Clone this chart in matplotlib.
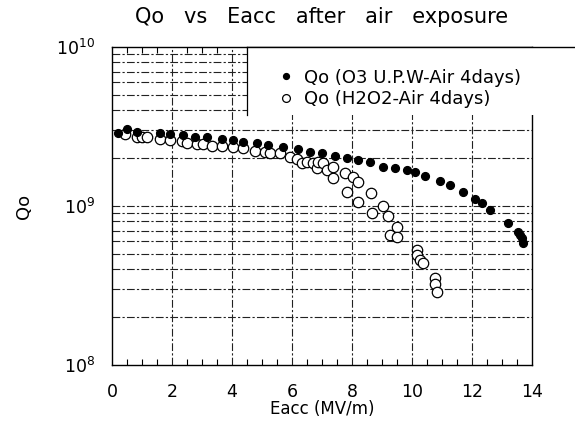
import numpy as np
import matplotlib.pyplot as plt
from matplotlib.patches import Rectangle
from matplotlib.ticker import FixedLocator, NullFormatter

plt.rcParams['font.family'] = ['DejaVu Sans']

# Qo (O3 U.P.W-Air 4days), filled dots
e_o3 = [0.21, 0.49, 0.82, 1.6, 1.93, 2.38, 2.77, 3.16, 3.66, 4.04, 4.38, 4.82,
        5.21, 5.71, 6.21, 6.6, 6.99, 7.43, 7.82, 8.21, 8.6, 9.04, 9.43, 9.82,
        10.1, 10.43, 10.93, 11.27, 11.71, 12.1, 12.32, 12.6, 13.21, 13.54,
        13.6, 13.66, 13.71]
logq_o3 = [9.461, 9.482, 9.467, 9.457, 9.453, 9.447, 9.436, 9.432, 9.419, 9.415,
           9.404, 9.394, 9.384, 9.373, 9.357, 9.341, 9.331, 9.314, 9.300, 9.289,
           9.279, 9.245, 9.241, 9.226, 9.212, 9.191, 9.159, 9.132, 9.090, 9.042,
           9.017, 8.975, 8.895, 8.838, 8.818, 8.797, 8.765]

# Qo (H2O2-Air 4days), open circles
e_h2o2 = [0.43, 0.82, 0.99, 1.16, 1.6, 1.93, 2.32, 2.49, 2.82, 3.04, 3.32, 3.66,
          4.04, 4.38, 4.77, 5.1, 5.27, 5.6, 5.93, 6.16, 6.32, 6.49, 6.71, 6.82,
          6.88, 7.04, 7.16, 7.38, 7.38, 7.77, 8.02, 8.21, 7.82, 8.21, 8.62, 8.66,
          9.04, 9.21, 9.51, 9.27, 9.49, 10.16, 10.16, 10.27, 10.38, 10.77, 10.77,
          10.82]
logq_h2o2 = [9.453, 9.432, 9.432, 9.432, 9.419, 9.415, 9.411, 9.394, 9.390, 9.390,
             9.377, 9.377, 9.369, 9.363, 9.348, 9.341, 9.335, 9.331, 9.306, 9.294,
             9.272, 9.279, 9.269, 9.237, 9.279, 9.269, 9.226, 9.174, 9.247, 9.206,
             9.184, 9.153, 9.090, 9.027, 9.080, 8.958, 9.002, 8.937, 8.870, 8.818,
             8.807, 8.723, 8.692, 8.660, 8.643, 8.545, 8.509, 8.461]

q_o3 = 10 ** np.array(logq_o3)
q_h2o2 = 10 ** np.array(logq_h2o2)

fig = plt.figure(figsize=(5.75, 4.23), dpi=100)
ax = fig.add_axes([0.1948, 0.1371, 0.7304, 0.7518])

ax.plot(e_h2o2, q_h2o2, 'o', mfc='white', mec='black', mew=0.9, ms=7.5,
        label='Qo (H2O2-Air 4days)', zorder=3)
ax.plot(e_o3, q_o3, 'o', mfc='black', mec='black', ms=5.6,
        label='Qo (O3 U.P.W-Air 4days)', zorder=4)

ax.set_yscale('log')
ax.set_xlim(0, 14)
ax.set_ylim(1e8, 1e10)

ax.set_xticks(np.arange(0, 15, 2))
ax.xaxis.set_minor_locator(FixedLocator(np.arange(0, 14.01, 0.5)))
ax.set_yticks([1e8, 1e9, 1e10])
ax.set_yticklabels([r'$10^8$', r'$10^9$', r'$10^{10}$'])
ax.yaxis.set_minor_formatter(NullFormatter())

ax.tick_params(which='both', direction='in', top=True, right=True, colors='black')
ax.tick_params(which='major', length=0, labelsize=12.5)
ax.tick_params(axis='x', which='major', pad=13)
ax.tick_params(axis='y', which='major', pad=12)
ax.tick_params(axis='x', which='minor', length=4, width=0.8)
ax.tick_params(axis='y', which='minor', length=0)

dash = (0, (7, 2, 2, 2))
for e in range(2, 14, 2):
    ax.axvline(e, color='#222222', lw=0.8, ls=dash, zorder=1)
for d in (1e8, 1e9):
    for m in range(1, 10):
        if d * m > 1e8:
            ax.axhline(d * m, color='#222222', lw=0.8, ls=dash, zorder=1)

for s in ax.spines.values():
    s.set_linewidth(1.0)

ax.set_xlabel('Eacc (MV/m)', fontsize=12, labelpad=-1)
ax.set_ylabel('Qo', fontsize=13, labelpad=17)
ax.set_title('Qo   vs   Eacc   after   air   exposure', fontsize=15, pad=17)

# legend box that covers the upper right corner and runs off the figure
x0, y0 = 0.321, 0.785
ax.add_patch(Rectangle((x0, y0), 1.0, 1.0 - y0, transform=ax.transAxes,
                       facecolor='white', edgecolor='none', clip_on=False, zorder=5))
ax.plot([x0, x0], [y0, 1.0], color='black', lw=0.9, transform=ax.transAxes,
        clip_on=False, zorder=6)
ax.plot([x0, 1.4], [1.0, 1.0], color='black', lw=1.0, transform=ax.transAxes,
        clip_on=False, zorder=6)

h, l = ax.get_legend_handles_labels()
leg = ax.legend(h[::-1], l[::-1], loc='upper left', bbox_to_anchor=(0.375, 0.955),
                frameon=False, fontsize=13, handletextpad=0.5, handlelength=1.0,
                labelspacing=0.2, markerscale=0.75, borderaxespad=0)
leg.set_zorder(7)

fig.savefig('out.png', dpi=100)
